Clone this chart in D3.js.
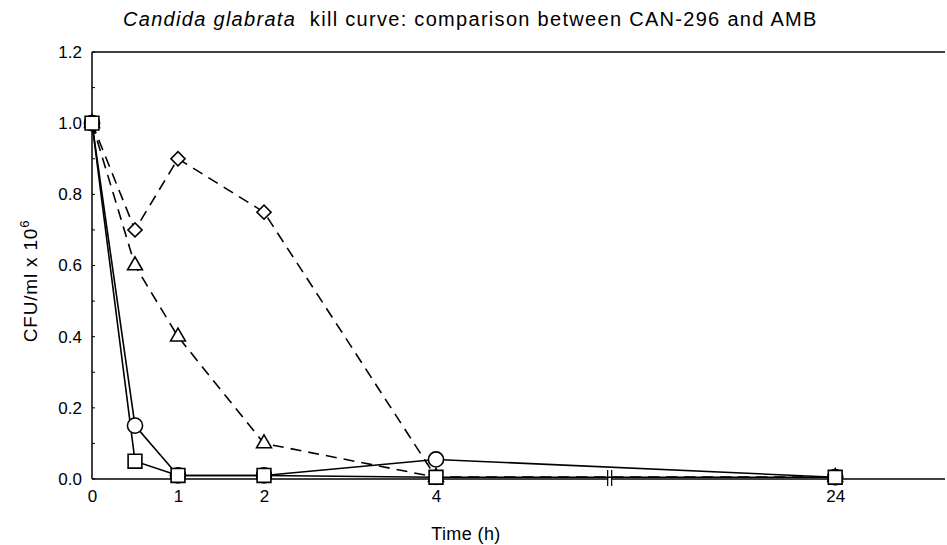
<!DOCTYPE html>
<html>
<head>
<meta charset="utf-8">
<script src="https://cdn.jsdelivr.net/npm/d3@7"></script>
<style>
  body { margin: 0; background: #fff; }
  text { font-family: "Liberation Sans", Arial, sans-serif; fill: #000; }
</style>
</head>
<body>
<script>
// Dimensions du SVG
const largeur = 947;
const hauteur = 545;

// Données (temps en heures, CFU/ml x 10^6)
const temps = [0, 0.5, 1, 2, 4, 24];
const serieCercle = [1.0, 0.15, 0.01, 0.01, 0.055, 0.005];
const serieCarre = [1.0, 0.05, 0.01, 0.01, 0.005, 0.005];
const serieLosange = [1.0, 0.7, 0.9, 0.75, 0.005, 0.005];
const serieTriangle = [1.0, 0.6, 0.4, 0.1, 0.005, 0.005];

const ticksX = [0, 1, 2, 4, 24];
const ticksY = [0.0, 0.2, 0.4, 0.6, 0.8, 1.0, 1.2];
const ticksMineursY = d3.range(0, 13).map(d => d / 10);
const coupure = 12.7; // position de la cassure de l'axe (en heures)

// Zone du graphique
const gauche = 92, droite = 945, haut = 52, bas = 479;

const svg = d3.select("body").append("svg")
    .attr("width", largeur)
    .attr("height", hauteur);

// Echelle x en deux morceaux (0-4 h puis 4-24 h comprimé)
const x = d3.scaleLinear().domain([0, 4, 29.5]).range([gauche, 436, droite]);
const y = d3.scaleLinear().domain([0, 1.2]).range([bas, haut]);

// Cadre : axe y, axe x et bord du haut
svg.append("line").attr("x1", gauche).attr("x2", gauche).attr("y1", haut).attr("y2", bas)
    .attr("stroke", "black").attr("stroke-width", 1.5);
svg.append("line").attr("x1", gauche).attr("x2", droite).attr("y1", bas).attr("y2", bas)
    .attr("stroke", "black").attr("stroke-width", 1.5);
svg.append("line").attr("x1", gauche).attr("x2", droite).attr("y1", haut).attr("y2", haut)
    .attr("stroke", "black").attr("stroke-width", 1.5);

// Axe y avec petites graduations vers l'intérieur
const axeY = d3.axisLeft(y).tickValues(ticksY).tickFormat(d3.format(".1f")).tickSize(0).tickPadding(10);
svg.append("g").attr("transform", `translate(${gauche},0)`).call(axeY)
    .call(g => g.select(".domain").remove())
    .selectAll("text").style("font-size", "17px");
svg.append("g").selectAll("line").data(ticksMineursY).join("line")
    .attr("x1", gauche).attr("x2", gauche + 3)
    .attr("y1", d => y(d)).attr("y2", d => y(d))
    .attr("stroke", "black").attr("stroke-width", 1);

// Axe x
const axeX = d3.axisBottom(x).tickValues(ticksX).tickFormat(d3.format("d")).tickSize(0).tickPadding(11);
svg.append("g").attr("transform", `translate(0,${bas})`).call(axeX)
    .call(g => g.select(".domain").remove())
    .selectAll("text").style("font-size", "17px");

// Cassure de l'axe x
const xc = x(coupure);
svg.append("rect").attr("x", xc - 1.5).attr("y", bas - 9).attr("width", 3).attr("height", 18).attr("fill", "white");
[-2, 2].forEach(dx => {
    svg.append("line").attr("x1", xc + dx).attr("x2", xc + dx)
        .attr("y1", bas - 9).attr("y2", bas + 7)
        .attr("stroke", "black").attr("stroke-width", 1.2);
});

// Tracer une série
const ligne = d3.line().x(d => x(d[0])).y(d => y(d[1]));

function dessinerSerie(valeurs, pointille) {
    const pts = temps.map((t, i) => [t, valeurs[i]]);
    svg.append("path")
        .attr("d", ligne(pts))
        .attr("fill", "none")
        .attr("stroke", "black")
        .attr("stroke-width", 1.6)
        .attr("stroke-dasharray", pointille ? "11,7" : null);
    return pts;
}

function dessinerSymboles(pts, type, taille, rotation) {
    const sym = d3.symbol().type(type).size(taille);
    svg.append("g").selectAll("path").data(pts).join("path")
        .attr("d", sym)
        .attr("transform", d => `translate(${x(d[0])},${y(d[1])}) rotate(${rotation})`)
        .attr("fill", "white")
        .attr("stroke", "black")
        .attr("stroke-width", 1.6);
}

const ptsLosange = dessinerSerie(serieLosange, true);
const ptsTriangle = dessinerSerie(serieTriangle, true);
const ptsCercle = dessinerSerie(serieCercle, false);
const ptsCarre = dessinerSerie(serieCarre, false);

dessinerSymboles(ptsLosange, d3.symbolSquare, 100, 45);
dessinerSymboles(ptsTriangle, d3.symbolTriangle, 95, 0);
dessinerSymboles(ptsCercle, d3.symbolCircle, 180, 0);
dessinerSymboles(ptsCarre, d3.symbolSquare, 190, 0);

// Titre
const titre = svg.append("text").attr("x", 123).attr("y", 26)
    .style("font-size", "20px").style("letter-spacing", "1.3px");
titre.append("tspan").style("font-style", "italic").text("Candida glabrata");
titre.append("tspan").text("\u00a0\u00a0kill curve: comparison between CAN-296 and AMB");

// Titres des axes
svg.append("text").attr("x", 466).attr("y", 540).attr("text-anchor", "middle")
    .style("font-size", "18px").style("letter-spacing", "0.4px").text("Time (h)");

const titreY = svg.append("text")
    .attr("transform", "translate(37,281) rotate(-90)")
    .attr("text-anchor", "middle")
    .style("font-size", "19px").style("letter-spacing", "0.8px");
titreY.append("tspan").text("CFU/ml x 10");
titreY.append("tspan").attr("dy", -8).style("font-size", "13px").text("6");
</script>
</body>
</html>
